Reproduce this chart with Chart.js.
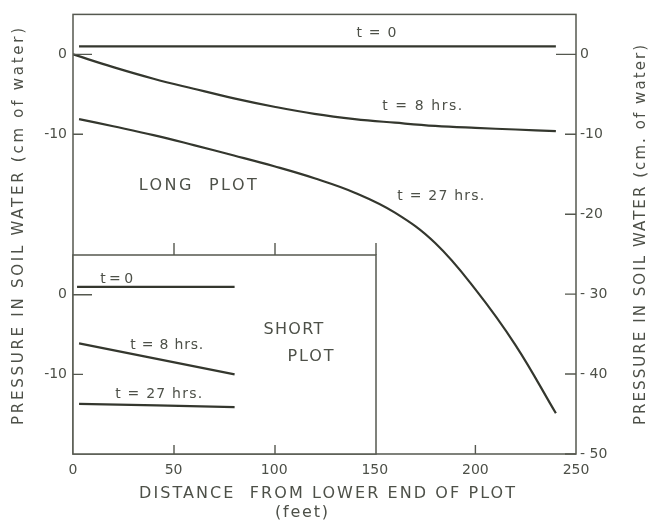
<!DOCTYPE html>
<html><head><meta charset="utf-8">
<script src="https://cdn.jsdelivr.net/npm/chart.js@4.4.1/dist/chart.umd.min.js"></script>
<style>
html,body{margin:0;padding:0;background:#ffffff;}
#wrap{position:relative;width:650px;height:522px;background:#ffffff;}
#wrap canvas{position:absolute;left:0;top:0;}
</style></head><body>
<div id="wrap"><canvas id="main" width="650" height="522"></canvas><canvas id="inset" width="650" height="522"></canvas></div>
<script>
// ---------- DATA ----------
// Long plot (main chart), distance in feet, pressure in cm of water
const longT0Dist  = [3, 240];
const longT0      = [1.0, 1.0];
const longT8Dist  = [0, 20, 40, 60, 80, 100, 120, 140, 160, 180, 200, 220, 240];
const longT8      = [0, -1.6, -3.05, -4.3, -5.5, -6.55, -7.45, -8.1, -8.55, -8.95, -9.2, -9.4, -9.6];
const longT27Dist = [3, 20, 40, 60, 80, 100, 120, 140, 160, 180, 200, 220, 240];
const longT27     = [-8.1, -9.0, -10.1, -11.35, -12.65, -14.0, -15.5, -17.3, -19.8, -23.6, -29.4, -36.4, -44.9];
// Short plot (inset)
const shortT0Dist  = [2, 80];
const shortT0      = [1.0, 1.0];
const shortT8Dist  = [3, 80];
const shortT8      = [-6.1, -10.0];
const shortT27Dist = [3, 80];
const shortT27     = [-13.7, -14.1];
// Ticks
const xTicks = [0, 50, 100, 150, 200, 250];
const xTickLabels = ['0', '50', '100', '150', '200', '250'];
const leftTicks = [0, -10];
const leftTickLabels = ['0', '-10'];
const rightTicks = [0, -10, -20, -30, -40, -50];
const rightTickLabels = ['0', '-10', '-20', '- 30', '- 40', '- 50'];
const insetYTicks = [0, -10];
const insetYTickLabels = ['0', '-10'];
const insetTopTicks = [50, 100, 150];
// Text annotations (anchored in data units)
const mainNotes = [
  {text: 't = 0', x: 150.8, y: 2.6, w: 40, size: 14},
  {text: 't = 8 hrs.', x: 173.6, y: -6.5, w: 80, size: 14},
  {text: 't = 27 hrs.', x: 182.8, y: -17.75, w: 87, size: 14},
  {text: 'LONG  PLOT', x: 62, y: -16.4, w: 118, size: 16}
];
const insetNotes = [
  {text: 't = 0', x: 21.6, y: 1.9, w: 33, size: 14},
  {text: 't = 8 hrs.', x: 46.4, y: -6.4, w: 73, size: 14},
  {text: 't = 27 hrs.', x: 42.4, y: -12.5, w: 87, size: 14},
  {text: 'SHORT', x: 109.1, y: -4.4, w: 60, size: 16},
  {text: 'PLOT', x: 117.6, y: -7.75, w: 46, size: 16}
];

// ---------- STYLE ----------
const FONT = "'DejaVu Sans', 'Liberation Sans', sans-serif";
const LINE = '#34372e';
const FRAME = '#55584f';
const TEXT = '#4d5048';

function pts(xs, ys) { return xs.map((x, i) => ({x: x, y: ys[i]})); }
function ds(xs, ys) {
  return {data: pts(xs, ys), borderColor: LINE, borderWidth: 2.2, pointRadius: 0,
          tension: 0.4, fill: false};
}

function spacedText(ctx, text, x0, y, w, size) {
  ctx.font = size + 'px ' + FONT;
  if ('letterSpacing' in ctx) ctx.letterSpacing = '0px';
  const m = ctx.measureText(text).width;
  if ('letterSpacing' in ctx && text.length > 1) {
    ctx.letterSpacing = ((w - m) / (text.length - 1)) + 'px';
  }
  ctx.textAlign = 'left';
  ctx.textBaseline = 'middle';
  ctx.fillText(text, x0, y);
  if ('letterSpacing' in ctx) ctx.letterSpacing = '0px';
}

function drawNotes(chart, notes, yId) {
  const ctx = chart.ctx, xs = chart.scales.x, ys = chart.scales[yId];
  ctx.save();
  ctx.fillStyle = TEXT;
  notes.forEach(n => {
    const px = xs.getPixelForValue(n.x), py = ys.getPixelForValue(n.y);
    spacedText(ctx, n.text, px - n.w / 2, py, n.w, n.size);
  });
  ctx.restore();
}

function tickLen(v) { return v === 0 ? 19 : 10; }

const mainDeco = {
  id: 'mainDeco',
  afterDatasetsDraw(chart) {
    const ctx = chart.ctx, a = chart.chartArea;
    const xs = chart.scales.x, yl = chart.scales.y, yr = chart.scales.yR;
    ctx.save();
    ctx.strokeStyle = FRAME; ctx.lineWidth = 1.5;
    ctx.strokeRect(a.left, a.top, a.right - a.left, a.bottom - a.top);
    ctx.lineWidth = 1.4;
    ctx.beginPath();
    leftTicks.forEach(v => { const y = yl.getPixelForValue(v); ctx.moveTo(a.left, y); ctx.lineTo(a.left + tickLen(v), y); });
    rightTicks.forEach(v => { const y = yr.getPixelForValue(v); ctx.moveTo(a.right, y); ctx.lineTo(a.right - tickLen(v) - 1, y); });
    xTicks.slice(1, -1).forEach(v => { const x = xs.getPixelForValue(v); ctx.moveTo(x, a.bottom); ctx.lineTo(x, a.bottom - 9); });
    ctx.stroke();
    ctx.restore();
    drawNotes(chart, mainNotes, 'y');
  },
  afterDraw(chart) {
    const ctx = chart.ctx;
    ctx.save();
    ctx.fillStyle = TEXT;
    // left axis title
    ctx.save(); ctx.translate(19, 226.5); ctx.rotate(-Math.PI / 2);
    spacedText(ctx, 'PRESSURE IN SOIL WATER (cm of water)', -198.5, 0, 397, 15);
    ctx.restore();
    // right axis title
    ctx.save(); ctx.translate(641, 235); ctx.rotate(-Math.PI / 2);
    spacedText(ctx, 'PRESSURE IN SOIL WATER (cm. of water)', -190, 0, 380, 15);
    ctx.restore();
    // x axis title
    spacedText(ctx, 'DISTANCE  FROM LOWER END OF PLOT', 139, 494, 376, 16);
    spacedText(ctx, '(feet)', 275, 513, 53, 16);
    ctx.restore();
  }
};

const insetDeco = {
  id: 'insetDeco',
  beforeDraw(chart) {
    const ctx = chart.ctx, a = chart.chartArea;
    ctx.save(); ctx.fillStyle = '#ffffff';
    ctx.fillRect(a.left, a.top, a.right - a.left, a.bottom - a.top);
    ctx.restore();
  },
  afterDatasetsDraw(chart) {
    const ctx = chart.ctx, a = chart.chartArea;
    const xs = chart.scales.x, ys = chart.scales.y;
    ctx.save();
    ctx.strokeStyle = FRAME; ctx.lineWidth = 1.5;
    ctx.strokeRect(a.left, a.top, a.right - a.left, a.bottom - a.top);
    ctx.lineWidth = 1.4;
    ctx.beginPath();
    insetYTicks.forEach(v => { const y = ys.getPixelForValue(v); ctx.moveTo(a.left, y); ctx.lineTo(a.left + tickLen(v), y); });
    insetTopTicks.forEach(v => { const x = xs.getPixelForValue(v); ctx.moveTo(x, a.top); ctx.lineTo(x, a.top - 12); });
    xTicks.filter(v => v > 0 && v < 150).forEach(v => { const x = xs.getPixelForValue(v); ctx.moveTo(x, a.bottom); ctx.lineTo(x, a.bottom - 9); });
    ctx.stroke();
    ctx.restore();
    drawNotes(chart, insetNotes, 'y');
  }
};

function setTicks(values) { return s => { s.ticks = values.map(v => ({value: v})); }; }
function labelFrom(values, labels) { return v => { const i = values.indexOf(v); return i >= 0 ? labels[i] : ''; }; }
const tickFont = {family: FONT, size: 14};

new Chart(document.getElementById('main'), {
  type: 'line',
  data: {datasets: [ds(longT0Dist, longT0), ds(longT8Dist, longT8), ds(longT27Dist, longT27)]},
  options: {
    responsive: false, animation: false, devicePixelRatio: 1,
    layout: {padding: {top: 14, left: 0, right: 0, bottom: 0}},
    plugins: {legend: {display: false}, tooltip: {enabled: false}},
    scales: {
      x: {type: 'linear', position: 'bottom', min: 0, max: 250,
          afterFit: s => { s.height = 68; }, afterBuildTicks: setTicks(xTicks),
          grid: {display: false, drawTicks: false}, border: {display: false},
          ticks: {font: tickFont, color: TEXT, padding: 8, maxRotation: 0, autoSkip: false,
                  callback: labelFrom(xTicks, xTickLabels)}},
      y: {type: 'linear', position: 'left', min: -50, max: 5,
          afterFit: s => { s.width = 73; }, afterBuildTicks: setTicks(leftTicks),
          grid: {display: false, drawTicks: false}, border: {display: false},
          ticks: {font: tickFont, color: TEXT, padding: 6, callback: labelFrom(leftTicks, leftTickLabels)}},
      yR: {type: 'linear', position: 'right', min: -50, max: 5,
          afterFit: s => { s.width = 74; }, afterBuildTicks: setTicks(rightTicks),
          grid: {display: false, drawTicks: false}, border: {display: false},
          ticks: {font: tickFont, color: TEXT, padding: 4, callback: labelFrom(rightTicks, rightTickLabels)}}
    }
  },
  plugins: [mainDeco]
});

new Chart(document.getElementById('inset'), {
  type: 'line',
  data: {datasets: [ds(shortT0Dist, shortT0), ds(shortT8Dist, shortT8), ds(shortT27Dist, shortT27)]},
  options: {
    responsive: false, animation: false, devicePixelRatio: 1,
    layout: {padding: {top: 255, left: 0, right: 274, bottom: 68}},
    plugins: {legend: {display: false}, tooltip: {enabled: false}},
    scales: {
      x: {type: 'linear', position: 'bottom', min: 0, max: 150, display: false},
      y: {type: 'linear', position: 'left', min: -20, max: 5,
          afterFit: s => { s.width = 73; }, afterBuildTicks: setTicks(insetYTicks),
          grid: {display: false, drawTicks: false}, border: {display: false},
          ticks: {font: tickFont, color: TEXT, padding: 6, callback: labelFrom(insetYTicks, insetYTickLabels)}}
    }
  },
  plugins: [insetDeco]
});
</script>
</body></html>
